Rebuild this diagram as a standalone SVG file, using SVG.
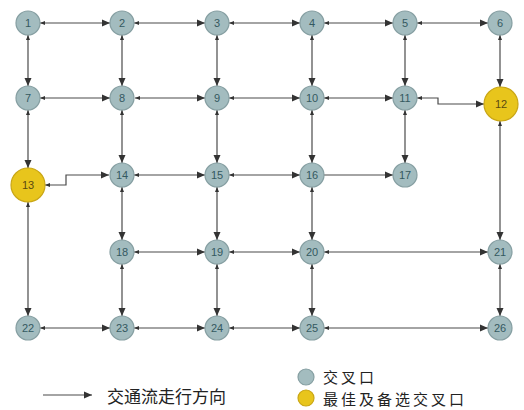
<svg xmlns="http://www.w3.org/2000/svg" width="524" height="410" viewBox="0 0 524 410">
<style>
.n{fill:#a3bcbf;stroke:#869fa2;stroke-width:1.2}
.y{fill:#e8c51c;stroke:#c9a616;stroke-width:1.2}
.t{font-family:"Liberation Sans",Arial,sans-serif;font-size:11px;fill:#34595f;text-anchor:middle;dominant-baseline:central}
.e{fill:none;stroke:#4a4a4a;stroke-width:1.2}
.b{marker-start:url(#s);marker-end:url(#a)}
.lg{font-family:"Noto Sans CJK SC",sans-serif;font-size:17px;fill:#222;dominant-baseline:central}
.lg2{font-family:"Noto Sans CJK SC",sans-serif;font-size:15px;letter-spacing:3px;fill:#222;dominant-baseline:central}
</style>
<defs>
<marker id="a" markerUnits="userSpaceOnUse" markerWidth="9" markerHeight="8" refX="8" refY="4" orient="auto"><path d="M0,0.5 L8,4 L0,7.5 z" fill="#333"/></marker>
<marker id="s" markerUnits="userSpaceOnUse" markerWidth="6" markerHeight="5" refX="5" refY="2.5" orient="auto-start-reverse"><path d="M0,0.5 L5,2.5 L0,4.5 z" fill="#333"/></marker>
</defs>
<rect width="524" height="410" fill="#fff"/>
<g id="connectors">
<path class="e b" d="M40,23H110"/><path class="e b" d="M134,23H205"/><path class="e b" d="M229,23H300"/><path class="e b" d="M324,23H393"/><path class="e b" d="M417,23H488"/>
<path class="e b" d="M40,98H110"/><path class="e b" d="M135,98H205"/><path class="e b" d="M229,98H300"/><path class="e b" d="M324,98H393"/><path class="e b" d="M417,98H438V104H484"/>
<path class="e b" d="M45,185H66V175H109"/><path class="e b" d="M134,175H205"/><path class="e b" d="M229,175H300"/><path class="e" marker-end="url(#a)" d="M324,175H393"/>
<path class="e b" d="M134,252H205"/><path class="e b" d="M229,252H300"/><path class="e b" d="M324,252H488"/>
<path class="e b" d="M40,328H110"/><path class="e b" d="M134,328H205"/><path class="e b" d="M229,328H300"/><path class="e b" d="M324,328H488"/>
<path class="e b" d="M28,35V86"/><path class="e b" d="M28,110V168"/><path class="e b" d="M28,202V316"/>
<path class="e b" d="M122,35V86"/><path class="e b" d="M122,110V163"/><path class="e b" d="M122,187V240"/><path class="e b" d="M122,264V316"/>
<path class="e b" d="M217,35V86"/><path class="e b" d="M217,110V163"/><path class="e b" d="M217,187V240"/><path class="e b" d="M217,264V316"/>
<path class="e b" d="M312,35V86"/><path class="e b" d="M312,110V163"/><path class="e b" d="M312,187V240"/><path class="e b" d="M312,264V316"/>
<path class="e b" d="M405,35V86"/><path class="e b" d="M405,110V163"/>
<path class="e b" d="M500,35V87"/><path class="e b" d="M500,121V240"/><path class="e b" d="M500,264V316"/>
</g>
<g id="n1"><circle class="n" cx="28" cy="23" r="12"/><text class="t" x="28" y="23">1</text></g>
<g id="n2"><circle class="n" cx="122" cy="23" r="12"/><text class="t" x="122" y="23">2</text></g>
<g id="n3"><circle class="n" cx="217" cy="23" r="12"/><text class="t" x="217" y="23">3</text></g>
<g id="n4"><circle class="n" cx="312" cy="23" r="12"/><text class="t" x="312" y="23">4</text></g>
<g id="n5"><circle class="n" cx="405" cy="23" r="12"/><text class="t" x="405" y="23">5</text></g>
<g id="n6"><circle class="n" cx="500" cy="23" r="12"/><text class="t" x="500" y="23">6</text></g>
<g id="n7"><circle class="n" cx="28" cy="98" r="12"/><text class="t" x="28" y="98">7</text></g>
<g id="n8"><circle class="n" cx="122" cy="98" r="12"/><text class="t" x="122" y="98">8</text></g>
<g id="n9"><circle class="n" cx="217" cy="98" r="12"/><text class="t" x="217" y="98">9</text></g>
<g id="n10"><circle class="n" cx="312" cy="98" r="12"/><text class="t" x="312" y="98">10</text></g>
<g id="n11"><circle class="n" cx="405" cy="98" r="12"/><text class="t" x="405" y="98">11</text></g>
<g id="n12"><circle class="y" cx="501" cy="104" r="17"/><text class="t" x="501" y="104" style="fill:#5a4a10">12</text></g>
<g id="n13"><circle class="y" cx="28" cy="185" r="17"/><text class="t" x="28" y="185" style="fill:#5a4a10">13</text></g>
<g id="n14"><circle class="n" cx="122" cy="175" r="12"/><text class="t" x="122" y="175">14</text></g>
<g id="n15"><circle class="n" cx="217" cy="175" r="12"/><text class="t" x="217" y="175">15</text></g>
<g id="n16"><circle class="n" cx="312" cy="175" r="12"/><text class="t" x="312" y="175">16</text></g>
<g id="n17"><circle class="n" cx="405" cy="175" r="12"/><text class="t" x="405" y="175">17</text></g>
<g id="n18"><circle class="n" cx="122" cy="252" r="12"/><text class="t" x="122" y="252">18</text></g>
<g id="n19"><circle class="n" cx="217" cy="252" r="12"/><text class="t" x="217" y="252">19</text></g>
<g id="n20"><circle class="n" cx="312" cy="252" r="12"/><text class="t" x="312" y="252">20</text></g>
<g id="n21"><circle class="n" cx="500" cy="252" r="12"/><text class="t" x="500" y="252">21</text></g>
<g id="n22"><circle class="n" cx="28" cy="328" r="12"/><text class="t" x="28" y="328">22</text></g>
<g id="n23"><circle class="n" cx="122" cy="328" r="12"/><text class="t" x="122" y="328">23</text></g>
<g id="n24"><circle class="n" cx="217" cy="328" r="12"/><text class="t" x="217" y="328">24</text></g>
<g id="n25"><circle class="n" cx="312" cy="328" r="12"/><text class="t" x="312" y="328">25</text></g>
<g id="n26"><circle class="n" cx="500" cy="328" r="12"/><text class="t" x="500" y="328">26</text></g>
<g id="legend">
<path class="e" marker-end="url(#a)" d="M43,395H92"/>
<text class="lg" x="107" y="395">交通流走行方向</text>
<circle class="n" cx="306" cy="377" r="8"/>
<text class="lg2" x="323" y="376">交叉口</text>
<circle class="y" cx="306" cy="398" r="8"/>
<text class="lg2" x="323" y="398">最佳及备选交叉口</text>
</g>
</svg>
